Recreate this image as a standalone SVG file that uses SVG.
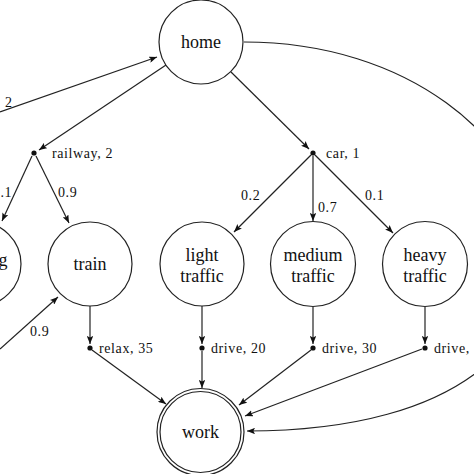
<svg xmlns="http://www.w3.org/2000/svg" width="474" height="474" viewBox="0 0 474 474">
<style>
.n{fill:#fff;stroke:#222;stroke-width:1.2}
.t{font-family:"Liberation Serif","DejaVu Serif",serif;font-size:18px;fill:#111;text-anchor:middle}
.l{font-family:"Liberation Serif","DejaVu Serif",serif;font-size:14px;fill:#111;letter-spacing:0.6px}
.e{fill:none;stroke:#222;stroke-width:1.2;marker-end:url(#a)}
.d{fill:#111}
</style>
<defs>
<marker id="a" viewBox="0 0 10 8" refX="10" refY="4" markerWidth="8" markerHeight="6.4" markerUnits="userSpaceOnUse" orient="auto">
<path d="M0,0 L10,4 L0,8 L2,4 z" fill="#111"/>
</marker>
</defs>
<rect width="474" height="474" fill="#fff"/>
<g id="connectors">
<path class="e" d="M0,112 L157,57"/>
<path class="e" d="M166,65 L39,150"/>
<path class="e" d="M231,72 L309,149"/>
<path class="e" d="M244,42 C575,42 689,431 247,431"/>
<path class="e" d="M32,156 L2,221"/>
<path class="e" d="M36,156 L69,223"/>
<path class="e" d="M311,155 L234,232"/>
<path class="e" d="M313,156 L313,221"/>
<path class="e" d="M315,155 L393,233"/>
<path class="e" d="M0,349 L58,297"/>
<path class="e" d="M90,306 L90,344"/>
<path class="e" d="M202,306 L202,344"/>
<path class="e" d="M313,307 L313,344"/>
<path class="e" d="M425,307 L425,344"/>
<path class="e" d="M92,350 L166,404"/>
<path class="e" d="M202,351 L202,388"/>
<path class="e" d="M311,350 L239,405"/>
<path class="e" d="M422,349 L245,416"/>
</g>
<g id="labels">
<text class="l" x="5" y="107">2</text>
<text class="l" x="0.5" y="197">.1</text>
<text class="l" x="58" y="197">0.9</text>
<text class="l" x="241" y="200">0.2</text>
<text class="l" x="318" y="212">0.7</text>
<text class="l" x="365" y="200">0.1</text>
<text class="l" x="30" y="336">0.9</text>
</g>
<g id="home"><circle class="n" cx="201" cy="42" r="42"/><text class="t" x="201" y="48">home</text></g>
<g id="railway"><circle class="d" cx="34" cy="153" r="2.6"/><text class="l" x="52" y="158">railway, 2</text></g>
<g id="car"><circle class="d" cx="313" cy="153" r="2.6"/><text class="l" x="326" y="158">car, 1</text></g>
<g id="g-node"><circle class="n" cx="-21" cy="264" r="42"/><text class="t" x="3" y="266">g</text></g>
<g id="train"><circle class="n" cx="90" cy="264" r="42"/><text class="t" x="90" y="270">train</text></g>
<g id="light"><circle class="n" cx="202" cy="264" r="42"/><text class="t" x="202" y="261">light</text><text class="t" x="202" y="282">traffic</text></g>
<g id="medium"><circle class="n" cx="313" cy="264" r="42.5"/><text class="t" x="313" y="261">medium</text><text class="t" x="313" y="282">traffic</text></g>
<g id="heavy"><circle class="n" cx="425" cy="264" r="42.5"/><text class="t" x="425" y="261">heavy</text><text class="t" x="425" y="282">traffic</text></g>
<g id="relax"><circle class="d" cx="90" cy="348" r="2.6"/><text class="l" x="99" y="353">relax, 35</text></g>
<g id="drive20"><circle class="d" cx="202" cy="348" r="2.6"/><text class="l" x="211" y="353">drive, 20</text></g>
<g id="drive30"><circle class="d" cx="313" cy="348" r="2.6"/><text class="l" x="322" y="353">drive, 30</text></g>
<g id="drive-heavy"><circle class="d" cx="425" cy="348" r="2.6"/><text class="l" x="434" y="353">drive,</text></g>
<g id="work"><circle class="n" cx="200.5" cy="432" r="43.5"/><circle class="n" cx="200.5" cy="432" r="40.5"/><text class="t" x="200.5" y="438">work</text></g>
</svg>
